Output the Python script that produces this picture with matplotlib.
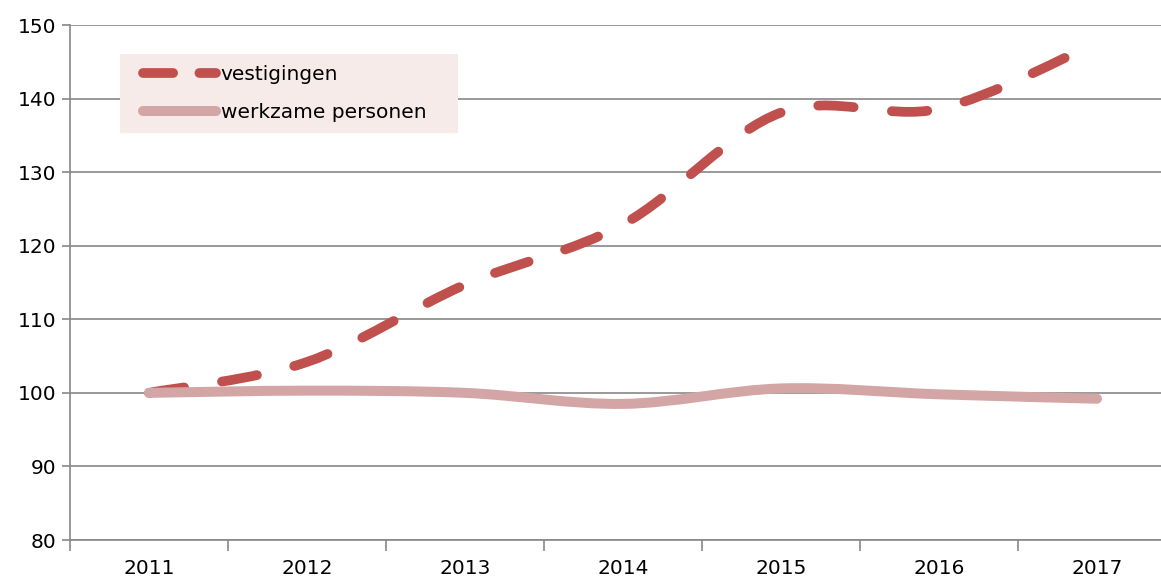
import matplotlib.pyplot as plt
from matplotlib.path import Path
from matplotlib.patches import PathPatch, Rectangle
from matplotlib.lines import Line2D

# gegevens (index 2011 = 100)
jaren = [2011, 2012, 2013, 2014, 2015, 2016, 2017]
vestigingen = [100, 104.2, 114.7, 122.9, 138.1, 138.6, 147.6]
werkzame_personen = [100, 100.3, 100.0, 98.5, 100.6, 99.8, 99.2]
labels = ['vestigingen', 'werkzame personen']

kleur_vest = '#C0504D'
kleur_werk = '#D4A5A5'
kleur_grid = '#878787'


def smooth_path(xs, ys):
    # vloeiende lijn zoals in Excel: bezier tussen de punten
    n = len(xs)
    verts = [(xs[0], ys[0])]
    codes = [Path.MOVETO]
    for i in range(n - 1):
        x0, y0 = xs[max(i - 1, 0)], ys[max(i - 1, 0)]
        x1, y1 = xs[i], ys[i]
        x2, y2 = xs[i + 1], ys[i + 1]
        x3, y3 = xs[min(i + 2, n - 1)], ys[min(i + 2, n - 1)]
        c1 = (x1 + (x2 - x0) / 6, y1 + (y2 - y0) / 6)
        c2 = (x2 - (x3 - x1) / 6, y2 - (y3 - y1) / 6)
        verts += [c1, c2, (x2, y2)]
        codes += [Path.CURVE4] * 3
    return Path(verts, codes)


plt.rcParams['font.family'] = ['DejaVu Sans']
W, H = 1161, 578
fig = plt.figure(figsize=(W / 100, H / 100), dpi=100)
ax = fig.add_axes([70 / W, 38 / H, 1 - 70 / W, 515 / H])

lw_vest = 7.0
lw_werk = 7.2
streep = (0, (3.65, 3.95))
ax.add_patch(PathPatch(smooth_path(jaren, vestigingen), fill=False, edgecolor=kleur_vest,
                       linewidth=lw_vest, linestyle=streep, capstyle='round',
                       joinstyle='round', zorder=3))
ax.add_patch(PathPatch(smooth_path(jaren, werkzame_personen), fill=False, edgecolor=kleur_werk,
                       linewidth=lw_werk, capstyle='round', joinstyle='round', zorder=4))

# y-as
ax.set_yticks(range(80, 151, 10))
ax.yaxis.grid(True, color=kleur_grid, linewidth=1.2)
ax.set_axisbelow(True)
ax.tick_params(axis='y', length=6, width=1.2, color=kleur_grid, labelsize=14.5, pad=4)

# x-as: labels in het midden, streepjes tussen de jaren
ax.set_xticks(jaren)
ax.set_xticklabels([str(j) for j in jaren])
ax.set_xticks([j - 0.5 for j in jaren] + [2017.5], minor=True)
ax.tick_params(axis='x', which='major', length=0, labelsize=14.5, pad=14)
ax.tick_params(axis='x', which='minor', length=8, width=1.2, color=kleur_grid)

ax.set_xlim(2010.5, 2010.5 + (W - 70) / 158)
ax.set_ylim(80, 150)

for s in ['top', 'right']:
    ax.spines[s].set_visible(False)
for s in ['left', 'bottom']:
    ax.spines[s].set_color(kleur_grid)
    ax.spines[s].set_linewidth(1.2)

# legenda met roze achtergrond
fig.patches.append(Rectangle((120 / W, 1 - 133 / H), 338 / W, 79 / H,
                             transform=fig.transFigure, facecolor='#F7EBEA',
                             edgecolor='none', zorder=5))
handles = [
    Line2D([], [], color=kleur_vest, linewidth=lw_vest, linestyle=(0, (3.1, 2.7)),
           dash_capstyle='round', solid_capstyle='round'),
    Line2D([], [], color=kleur_werk, linewidth=lw_werk, solid_capstyle='round'),
]
leg = fig.legend(handles, labels, loc='upper left', frameon=False,
                 bbox_to_anchor=(143 / W, 1 - 65 / H), borderaxespad=0, borderpad=0,
                 fontsize=14.5, handlelength=3.6, handletextpad=0.25,
                 labelspacing=0.95)
leg.set_zorder(6)

fig.savefig('out.png', dpi=100)
